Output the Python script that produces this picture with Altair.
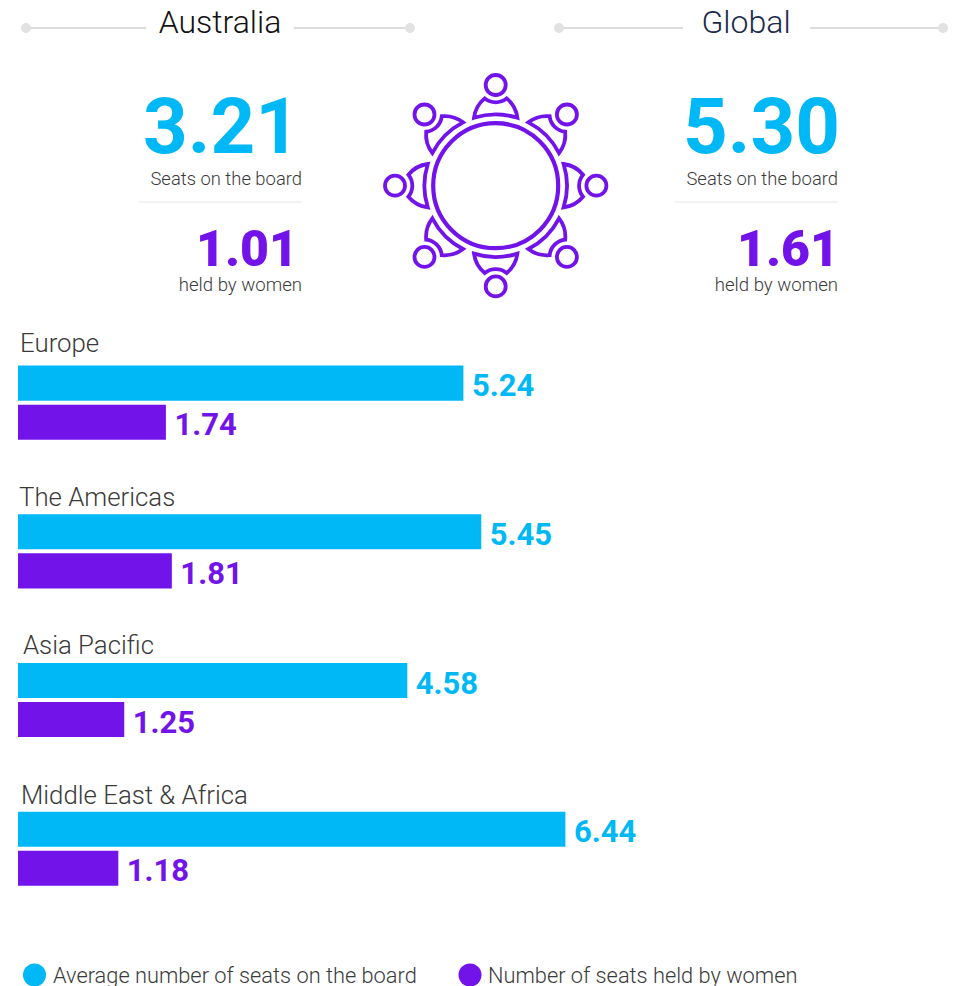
import math
import altair as alt
import pandas as pd

BLUE = "#00B8F5"
PURPLE = "#7213EA"
TEXT = "#3a3a3a"

regions = ["Europe", "The Americas", "Asia Pacific", "Middle East & Africa"]
series = ["Average number of seats on the board", "Number of seats held by women"]
avg_seats = [5.24, 5.45, 4.58, 6.44]
women_seats = [1.74, 1.81, 1.25, 1.18]

df = pd.DataFrame(
    [{"region": r, "series": series[0], "value": v} for r, v in zip(regions, avg_seats)]
    + [{"region": r, "series": series[1], "value": v} for r, v in zip(regions, women_seats)]
)
df["label"] = df["value"].map(lambda v: f"{v:.2f}")

W, H = 944, 978
PX = 85.0
x_scale = alt.Scale(domain=[-10 / PX, (W - 10) / PX], range=[0, W], nice=False, zero=False)
y_scale = alt.Scale(domain=regions, range=[320.3, 915.1], paddingInner=0, paddingOuter=0)
off_scale = alt.Scale(domain=series, paddingInner=4 / 39, paddingOuter=0.956)
col_scale = alt.Scale(domain=series, range=[BLUE, PURPLE])

X = alt.X("value:Q", scale=x_scale, axis=None)
Y = alt.Y("region:N", scale=y_scale, axis=None)
OFF = alt.YOffset("series:N", scale=off_scale)
COL = alt.Color("series:N", scale=col_scale, legend=None)

bars = alt.Chart(df).mark_bar(cornerRadius=0).encode(
    x=X, x2=alt.datum(0), y=Y, yOffset=OFF, color=COL
)
bar_labels = alt.Chart(df).mark_text(
    align="left", baseline="middle", dx=8.5, dy=4, font="Roboto", fontWeight=700, fontSize=31
).encode(x=X, y=Y, yOffset=OFF, color=COL, text="label:N")


def txt(s, x, y, size, color, align="left", weight=300, font="Roboto"):
    return alt.Chart(pd.DataFrame({"t": [s]})).mark_text(
        align=align, baseline="alphabetic", font=font, fontSize=size,
        fontWeight=weight, color=color
    ).encode(x=alt.value(x - 8), y=alt.value(y - 8), text="t:N")


def rule(x1, x2, y, color, w=1.5):
    return alt.Chart(pd.DataFrame({"a": [0]})).mark_rule(color=color, strokeWidth=w).encode(
        x=alt.value(x1 - 8), x2=alt.value(x2 - 8), y=alt.value(y - 8)
    )


def dot(x, y, d, color):
    return alt.Chart(pd.DataFrame({"a": [0]})).mark_point(
        shape="circle", filled=True, size=d * d, color=color, opacity=1
    ).encode(x=alt.value(x - 8), y=alt.value(y - 8))


layers = [bars, bar_labels]

for name, x, y in [
    ("Europe", 20, 352), ("The Americas", 19, 506),
    ("Asia Pacific", 23, 654), ("Middle East & Africa", 21, 804),
]:
    layers.append(txt(name, x, y, 25.8, TEXT))

# header ornaments
for x1, x2 in [(26, 146), (294, 410), (559, 683), (810, 943)]:
    layers.append(rule(x1, x2, 28, "#d0d0d0", 1.5))
for x in [26, 410, 559, 943]:
    layers.append(dot(x, 28, 10, "#e2e2e2"))
layers.append(rule(139, 302, 202, "#e6e6e6", 1))
layers.append(rule(675, 838, 202, "#e6e6e6", 1))

layers += [
    txt("Australia", 220, 33, 32, "#111111", "center"),
    txt("Global", 746, 33, 32, "#1c2b4a", "center"),
    txt("3.21", 300, 153, 78, BLUE, "right", 700),
    txt("5.30", 840, 153, 78, BLUE, "right", 700),
    txt("Seats on the board", 302, 185, 18.4, TEXT, "right"),
    txt("Seats on the board", 838, 185, 18.4, TEXT, "right"),
    txt("1.01", 298, 266, 50, PURPLE, "right", 900),
    txt("1.61", 839, 266, 50, PURPLE, "right", 900),
    txt("held by women", 302, 291, 18.6, TEXT, "right"),
    txt("held by women", 838, 291, 18.6, TEXT, "right"),
    txt(series[0], 53, 983, 21.8, TEXT),
    txt(series[1], 488, 983, 21.8, TEXT),
]
layers.append(dot(34.5, 975, 23, BLUE))
layers.append(dot(470, 975, 23, PURPLE))

# table icon: custom symbol paths, drawn at 1:1 pixel scale with size=4
SEAT = (
    "M -21.7 -67.9 A 71.5 71.5 0 0 1 21.7 -67.9 A 30 30 0 0 0 11 -87.3 "
    "A 17.4 17.4 0 0 1 -11 -87.3 A 30 30 0 0 0 -21.7 -67.9 Z "
    "M 10 -100.7 A 10 10 0 1 0 -10 -100.7 A 10 10 0 1 0 10 -100.7 Z"
)
TABLE = "M 62.5 0 A 62.5 62.5 0 1 0 -62.5 0 A 62.5 62.5 0 1 0 62.5 0 Z"
for k in range(8):
    layers.append(
        alt.Chart(pd.DataFrame({"a": [0]})).mark_point(
            shape=SEAT, size=4, filled=False, stroke=PURPLE, strokeWidth=3.8, angle=45 * k, opacity=1
        ).encode(x=alt.value(495.7 - 8), y=alt.value(185.7 - 8))
    )
layers.append(
    alt.Chart(pd.DataFrame({"a": [0]})).mark_point(
        shape=TABLE, size=4, filled=False, stroke=PURPLE, strokeWidth=4.2, opacity=1
    ).encode(x=alt.value(495.7 - 8), y=alt.value(185.7 - 8))
)

chart = alt.layer(*layers).properties(
    width=W, height=H, padding=0, autosize=alt.AutoSizeParams(type="none")
).configure_view(stroke=None)

chart.save("out.html", embed_options={"renderer": "svg", "actions": False})
